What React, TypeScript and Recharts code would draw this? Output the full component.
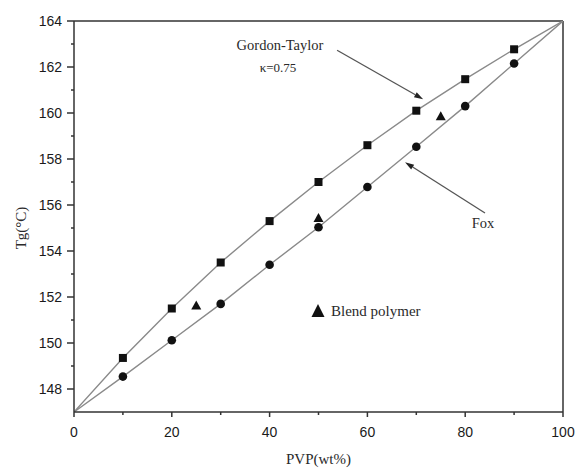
import React from 'react';
import { ComposedChart, Line, Scatter, XAxis, YAxis, ReferenceLine, Customized } from 'recharts';

// PVP content (wt%) and measured / calculated Tg values
const pvp = [10, 20, 30, 40, 50, 60, 70, 80, 90];
const gordonTaylor = [149.35, 151.5, 153.5, 155.3, 157.0, 158.6, 160.1, 161.47, 162.77];
const fox = [148.54, 150.12, 151.7, 153.4, 155.03, 156.78, 158.53, 160.3, 162.15];
const blendPvp = [25, 50, 75];
const blendTg = [151.63, 155.44, 159.86];
const endPvp = [0, 100];
const endTg = [147, 164];

const xTicks = [0, 10, 20, 30, 40, 50, 60, 70, 80, 90, 100];
const yTicks = [148, 149, 150, 151, 152, 153, 154, 155, 156, 157, 158, 159, 160, 161, 162, 163, 164];

const gtPoints = pvp.map((x, i) => ({ x, y: gordonTaylor[i] }));
const foxPoints = pvp.map((x, i) => ({ x, y: fox[i] }));
const blendPoints = blendPvp.map((x, i) => ({ x, y: blendTg[i] }));
const gtLine = [{ x: endPvp[0], y: endTg[0] }, ...gtPoints, { x: endPvp[1], y: endTg[1] }];
const foxLine = [{ x: endPvp[0], y: endTg[0] }, ...foxPoints, { x: endPvp[1], y: endTg[1] }];

const axisColor = '#333';
const lineColor = '#8a8a8a';
const sans = '"Liberation Sans", Arial, sans-serif';
const serif = '"Liberation Serif", "Times New Roman", serif';

const XTick = (props: any) => {
    const { x, y, payload } = props;
    const major = payload.value % 20 === 0;
    return (
        <g>
            <line x1={x} y1={y} x2={x} y2={y + (major ? 5 : 3)} stroke={axisColor} strokeWidth={1.5} />
            {major && (
                <text x={x} y={y + 25} textAnchor="middle" fontSize={14} fontFamily={sans} fill="#1a1a1a">
                    {payload.value}
                </text>
            )}
        </g>
    );
};

const YTick = (props: any) => {
    const { x, y, payload } = props;
    const major = payload.value % 2 === 0;
    return (
        <g>
            <line x1={x - (major ? 7 : 3)} y1={y} x2={x} y2={y} stroke={axisColor} strokeWidth={1.5} />
            {major && (
                <text x={x - 12} y={y + 5} textAnchor="end" fontSize={14} fontFamily={sans} fill="#1a1a1a">
                    {payload.value}
                </text>
            )}
        </g>
    );
};

const Square = (props: any) => (
    <rect x={props.cx - 4} y={props.cy - 4} width={8} height={8} fill="#111" />
);
const Dot = (props: any) => <circle cx={props.cx} cy={props.cy} r={4.3} fill="#111" />;
const Tri = (props: any) => (
    <polygon
        points={`${props.cx},${props.cy - 5} ${props.cx - 5},${props.cy + 4} ${props.cx + 5},${props.cy + 4}`}
        fill="#111"
    />
);

const Arrow = (props: any) => {
    const { x1, y1, x2, y2 } = props;
    const ang = Math.atan2(y2 - y1, x2 - x1);
    const L = 9;
    const W = 2.8;
    const bx = x2 - L * Math.cos(ang);
    const by = y2 - L * Math.sin(ang);
    const px = -Math.sin(ang) * W;
    const py = Math.cos(ang) * W;
    return (
        <g>
            <line x1={x1} y1={y1} x2={bx} y2={by} stroke="#555" strokeWidth={1.3} />
            <polygon points={`${x2},${y2} ${bx + px},${by + py} ${bx - px},${by - py}`} fill="#222" />
        </g>
    );
};

const Annotations = () => (
    <g>
        <text x={280} y={50} textAnchor="middle" fontSize={14.5} fontFamily={serif} fill="#2a2a2a">Gordon-Taylor</text>
        <text x={278} y={72} textAnchor="middle" fontSize={13} fontFamily={serif} fill="#2a2a2a">κ=0.75</text>
        <text x={483} y={228} textAnchor="middle" fontSize={14.5} fontFamily={serif} fill="#2a2a2a">Fox</text>
        <polygon points="318,304 311.5,317 324.5,317" fill="#111" />
        <text x={331} y={316} fontSize={15} fontFamily={serif} fill="#2a2a2a">Blend polymer</text>
        <text x={318.5} y={464} textAnchor="middle" fontSize={15} fontFamily={serif} fill="#2a2a2a">PVP(wt%)</text>
        <text
            x={26}
            y={228}
            textAnchor="middle"
            fontSize={15}
            fontFamily={serif}
            fill="#2a2a2a"
            transform="rotate(-90 26 228)"
        >
            Tg(°C)
        </text>
    </g>
);

const App: React.FC = () => {
    return (
        <div style={{ position: 'absolute', left: 0, top: 0, width: 576, height: 468, background: '#fff' }}>
            <ComposedChart width={576} height={468} margin={{ top: 21, right: 13, left: 0, bottom: 0 }}>
                <XAxis
                    dataKey="x"
                    type="number"
                    domain={[0, 100]}
                    ticks={xTicks}
                    interval={0}
                    height={56}
                    tickSize={0}
                    tickMargin={0}
                    tickLine={false}
                    tick={<XTick />}
                    axisLine={{ stroke: axisColor, strokeWidth: 1.5 }}
                    allowDataOverflow
                />
                <YAxis
                    type="number"
                    domain={[147, 164]}
                    ticks={yTicks}
                    interval={0}
                    width={74}
                    tickSize={0}
                    tickMargin={0}
                    tickLine={false}
                    tick={<YTick />}
                    axisLine={{ stroke: axisColor, strokeWidth: 1.5 }}
                    allowDataOverflow
                />
                <ReferenceLine y={164} stroke={axisColor} strokeWidth={1.5} />
                <ReferenceLine x={100} stroke={axisColor} strokeWidth={1.5} />
                <Line data={gtLine} dataKey="y" stroke={lineColor} strokeWidth={1.4} dot={false} isAnimationActive={false} />
                <Line data={foxLine} dataKey="y" stroke={lineColor} strokeWidth={1.4} dot={false} isAnimationActive={false} />
                <Scatter data={gtPoints} dataKey="y" shape={Square} isAnimationActive={false} />
                <Scatter data={foxPoints} dataKey="y" shape={Dot} isAnimationActive={false} />
                <Scatter data={blendPoints} dataKey="y" shape={Tri} isAnimationActive={false} />
                <ReferenceLine
                    segment={[{ x: 53.8, y: 162.73 }, { x: 71.4, y: 160.6 }]}
                    shape={Arrow}
                />
                <ReferenceLine
                    segment={[{ x: 84.05, y: 155.65 }, { x: 67.7, y: 157.86 }]}
                    shape={Arrow}
                />
                <Customized component={Annotations} />
            </ComposedChart>
        </div>
    );
};

export default App;
